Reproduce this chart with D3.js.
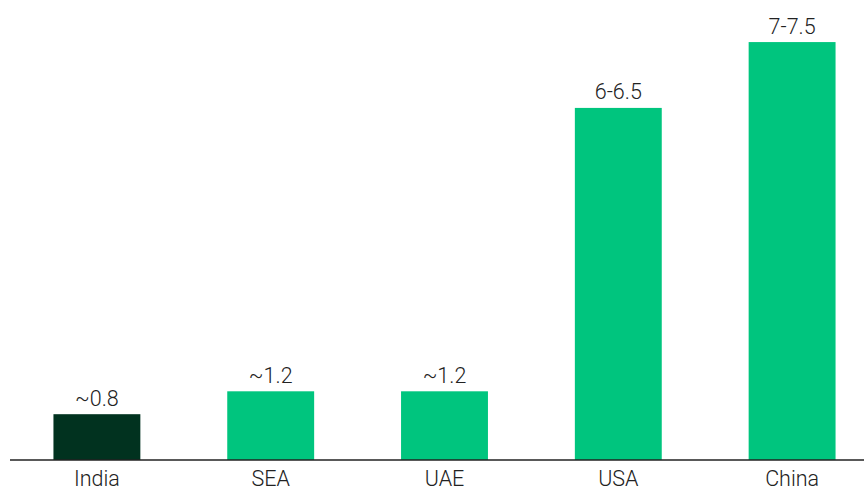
<!DOCTYPE html>
<html>
<head>
<meta charset="utf-8">
<script src="https://cdn.jsdelivr.net/npm/d3@7"></script>
<style>
  html, body { margin: 0; padding: 0; background: #fff; }
  svg { display: block; }
</style>
</head>
<body>
<svg id="chart" width="864" height="490"></svg>
<script>
const categories = ["India", "SEA", "UAE", "USA", "China"];
const values = [0.8, 1.2, 1.2, 6.15, 7.3];
const valueLabels = ["~0.8", "~1.2", "~1.2", "6-6.5", "7-7.5"];
const highlight = ["India"];

const W = 864, H = 490;
const baseY = 460;
const svg = d3.select("#chart");

const x = d3.scaleBand()
  .domain(categories)
  .range([10, 879])
  .paddingInner(0.5)
  .paddingOuter(0.25);

const y = d3.scaleLinear()
  .domain([0, 8])
  .range([baseY, 2]);

const data = categories.map((c, i) => ({ c, v: values[i], label: valueLabels[i] }));

svg.selectAll("rect.bar")
  .data(data)
  .join("rect")
  .attr("class", "bar")
  .attr("x", d => x(d.c))
  .attr("y", d => y(d.v))
  .attr("width", x.bandwidth())
  .attr("height", d => baseY - y(d.v))
  .attr("fill", d => highlight.includes(d.c) ? "#01321F" : "#00C57E");

svg.selectAll("text.val")
  .data(data)
  .join("text")
  .attr("class", "val")
  .attr("x", d => x(d.c) + x.bandwidth() / 2)
  .attr("y", d => y(d.v) - 8.5)
  .attr("text-anchor", "middle")
  .attr("font-family", "Roboto, sans-serif")
  .attr("font-weight", 300)
  .attr("font-size", 21.5)
  .attr("fill", "#222")
  .text(d => d.label);

// baseline axis
const xAxis = d3.axisBottom(x).tickSize(0).tickPadding(0);
const g = svg.append("g").attr("transform", `translate(0,${baseY})`).call(xAxis);
g.select(".domain").remove();
g.append("line")
  .attr("x1", 10).attr("x2", W)
  .attr("y1", 0).attr("y2", 0)
  .attr("stroke", "#222")
  .attr("stroke-width", 1.5);
g.selectAll(".tick text")
  .attr("y", 25.5)
  .attr("dy", 0)
  .attr("font-family", "Roboto, sans-serif")
  .attr("font-weight", 300)
  .attr("font-size", 21.5)
  .attr("fill", "#222");
</script>
</body>
</html>
